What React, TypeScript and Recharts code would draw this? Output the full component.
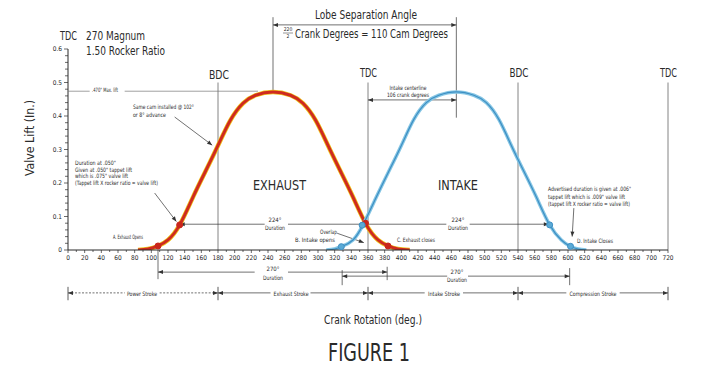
import React from "react";
import { ComposedChart, Line, XAxis, YAxis, ReferenceLine, ReferenceDot } from "recharts";

// crank angle (deg) vs valve lift (in.)
const exhaustDeg = [84, 96, 108, 120, 134, 150, 165, 180, 195, 210, 225, 246, 267, 282, 297, 312, 327, 342, 358, 372, 384, 396, 410];
const exhaustLift = [0, 0.003, 0.012, 0.03, 0.075, 0.158, 0.235, 0.312, 0.388, 0.438, 0.462, 0.472, 0.462, 0.438, 0.388, 0.312, 0.235, 0.158, 0.075, 0.03, 0.012, 0.003, 0];
const intakeDeg = [310, 320, 330, 342, 354, 370, 385, 400, 415, 430, 445, 466, 487, 502, 517, 532, 547, 562, 578, 592, 602, 612, 622];
const intakeLift = [0, 0.003, 0.012, 0.03, 0.075, 0.158, 0.235, 0.312, 0.39, 0.44, 0.462, 0.472, 0.462, 0.44, 0.39, 0.312, 0.235, 0.158, 0.075, 0.03, 0.012, 0.003, 0];

const exhaustMarkDeg = [108, 134, 357, 384];
const exhaustMarkLift = [0.012, 0.075, 0.08, 0.012];
const intakeMarkDeg = [328, 353, 578, 603];
const intakeMarkLift = [0.01, 0.074, 0.075, 0.011];

const strokeLimits = [0, 180, 360, 540, 720];
const xTicks = Array.from({ length: 73 }, (_, i) => i * 10);
const yTicks = Array.from({ length: 31 }, (_, i) => Math.round(i * 2) / 100);

const exhaustData = exhaustDeg.map((deg, i) => ({ deg, lift: exhaustLift[i] }));
const intakeData = intakeDeg.map((deg, i) => ({ deg, lift: intakeLift[i] }));

const FONT = "'Liberation Sans Narrow', 'DejaVu Sans Condensed', 'Liberation Sans', sans-serif";
const INK = "#2a2a2a";

type Arrow = "none" | "start" | "end" | "both";

const arrowShape = (arrow: Arrow, dash?: string) => (p: any) => {
  const { x1, y1, x2, y2 } = p;
  const len = Math.hypot(x2 - x1, y2 - y1) || 1;
  const ux = (x2 - x1) / len;
  const uy = (y2 - y1) / len;
  const head = (x: number, y: number, dx: number, dy: number) => {
    const bx = x - dx * 5;
    const by = y - dy * 5;
    return `${x},${y} ${bx - dy * 2},${by + dx * 2} ${bx + dy * 2},${by - dx * 2}`;
  };
  const col = p.stroke;
  return (
    <g>
      <line x1={x1} y1={y1} x2={x2} y2={y2} stroke={col} strokeWidth={p.strokeWidth} strokeDasharray={dash} />
      {(arrow === "start" || arrow === "both") && <polygon points={head(x1, y1, -ux, -uy)} fill={col} />}
      {(arrow === "end" || arrow === "both") && <polygon points={head(x2, y2, ux, uy)} fill={col} />}
    </g>
  );
};

// annotation segments in chart units: [x1, y1, x2, y2, arrow]
const notes: [number, number, number, number, Arrow][] = [
  [0, 0.474, 26, 0.474, "none"],
  [68, 0.474, 228, 0.474, "none"],
  [246, 0.474, 246, 0.695, "none"],
  [466, 0.395, 466, 0.695, "none"],
  [246, 0.672, 466, 0.672, "both"],
  [360, 0.448, 466, 0.448, "both"],
  [128, 0.397, 173, 0.313, "end"],
  [104, 0.17, 130, 0.085, "end"],
  [134, 0.077, 236, 0.077, "start"],
  [264, 0.077, 454, 0.077, "none"],
  [482, 0.077, 577, 0.077, "end"],
  [323, 0.05, 355, 0.022, "end"],
  [607, 0.125, 605, 0.04, "end"],
  [108, 0.0, 108, -0.087, "none"],
  [108, -0.066, 224, -0.066, "start"],
  [264, -0.066, 383, -0.066, "end"],
  [383, -0.05, 383, -0.09, "none"],
  [329, -0.06, 329, -0.105, "none"],
  [329, -0.078, 455, -0.078, "start"],
  [480, -0.078, 602, -0.078, "end"],
  [602, -0.054, 602, -0.105, "none"],
];

const strokeSegs: [number, number, Arrow][] = [
  [0, 68, "start"], [110, 180, "end"],
  [180, 243, "start"], [291, 360, "end"],
  [360, 428, "start"], [474, 540, "end"],
  [540, 598, "start"], [662, 720, "end"],
];

const XTick = (p: any) => {
  const v = p.payload.value;
  const major = v % 20 === 0;
  return (
    <g>
      <line x1={p.x} y1={p.y} x2={p.x} y2={p.y + (major ? 3 : 2)} stroke={INK} strokeWidth={0.7} />
      {major && (
        <text x={p.x} y={p.y + 10} textAnchor="middle" fontSize={6.5} fill={INK} fontFamily={FONT}>
          {v}
        </text>
      )}
    </g>
  );
};

const YTick = (p: any) => {
  const v = p.payload.value;
  const major = Math.abs(v * 10 - Math.round(v * 10)) < 1e-6;
  return (
    <g>
      <line x1={p.x - (major ? 4 : 3)} y1={p.y} x2={p.x} y2={p.y} stroke={INK} strokeWidth={0.7} />
      {major && (
        <text x={p.x - 6} y={p.y + 2.2} textAnchor="end" fontSize={6.5} fill={INK} fontFamily={FONT}>
          {v === 0 ? "0" : v.toFixed(1)}
        </text>
      )}
    </g>
  );
};

type T = { t: string; x: number; y: number; s: number; w?: number; a?: "start" | "middle" | "end" };
const texts: T[] = [
  { t: "TDC", x: 60, y: 40, s: 12, w: 17 },
  { t: "270 Magnum", x: 86, y: 40, s: 12, w: 59 },
  { t: "1.50 Rocker Ratio", x: 86, y: 55, s: 12, w: 79 },
  { t: "BDC", x: 219, y: 79, s: 12, w: 20, a: "middle" },
  { t: "TDC", x: 368.5, y: 77, s: 12, w: 17, a: "middle" },
  { t: "BDC", x: 519, y: 77, s: 12, w: 19, a: "middle" },
  { t: "TDC", x: 668.5, y: 77, s: 12, w: 17, a: "middle" },
  { t: "Lobe Separation Angle", x: 366, y: 19, s: 12, w: 102, a: "middle" },
  { t: "Crank Degrees = 110 Cam Degrees", x: 295, y: 38, s: 12, w: 153 },
  { t: "220", x: 288, y: 31, s: 5, a: "middle" },
  { t: "2", x: 288, y: 38, s: 5, a: "middle" },
  { t: ".470\" Max. lift", x: 92, y: 92, s: 6, w: 26 },
  { t: "Same cam installed @ 102\u00b0", x: 133, y: 109, s: 6, w: 61 },
  { t: "or 8\u00b0 advance", x: 133, y: 117, s: 6, w: 33 },
  { t: "Duration at .050\"", x: 75, y: 165, s: 6, w: 41 },
  { t: "Given at .050\" tappet lift", x: 75, y: 171.5, s: 6, w: 57 },
  { t: "which is .075\" valve lift", x: 75, y: 178, s: 6, w: 53 },
  { t: "(Tappet lift X rocker ratio = valve lift)", x: 75, y: 185, s: 6, w: 83 },
  { t: "A. Exhaust Opens", x: 113, y: 239, s: 6, w: 30 },
  { t: "EXHAUST", x: 253, y: 190, s: 14, w: 53 },
  { t: "INTAKE", x: 438, y: 190, s: 14, w: 40 },
  { t: "224\u00b0", x: 275, y: 222, s: 6, a: "middle" },
  { t: "Duration", x: 275, y: 230, s: 6, w: 20, a: "middle" },
  { t: "224\u00b0", x: 458, y: 222, s: 6, a: "middle" },
  { t: "Duration", x: 458, y: 230, s: 6, w: 20, a: "middle" },
  { t: "Overlap", x: 320, y: 234, s: 6, w: 17 },
  { t: "B. Intake opens", x: 295, y: 242, s: 6, w: 40 },
  { t: "C. Exhaust closes", x: 397, y: 242, s: 6, w: 38 },
  { t: "Intake centerline", x: 408, y: 90, s: 6, w: 37, a: "middle" },
  { t: "106 crank degrees", x: 408, y: 97, s: 6, w: 42, a: "middle" },
  { t: "Advertised duration is given at .006\"", x: 548, y: 191, s: 6, w: 83 },
  { t: "tappet lift which is .009\" valve lift", x: 548, y: 198.5, s: 6, w: 77 },
  { t: "(tappet lift X rocker ratio = valve lift)", x: 548, y: 206, s: 6, w: 82 },
  { t: "D. Intake Closes", x: 577, y: 243, s: 6, w: 36 },
  { t: "270\u00b0", x: 273, y: 271, s: 6, a: "middle" },
  { t: "Duration", x: 273, y: 280, s: 6, w: 20, a: "middle" },
  { t: "270\u00b0", x: 457, y: 274, s: 6, a: "middle" },
  { t: "Duration", x: 457, y: 282, s: 6, w: 20, a: "middle" },
  { t: "Power Stroke", x: 142, y: 295.5, s: 6, w: 30, a: "middle" },
  { t: "Exhaust Stroke", x: 291, y: 295.5, s: 6, w: 35, a: "middle" },
  { t: "Intake Stroke", x: 444, y: 295.5, s: 6, w: 32, a: "middle" },
  { t: "Compression Stroke", x: 593, y: 295.5, s: 6, w: 47, a: "middle" },
  { t: "Crank Rotation (deg.)", x: 373, y: 324, s: 12, w: 98, a: "middle" },
  { t: "FIGURE 1", x: 369, y: 361, s: 25, w: 82, a: "middle" },
];

export default function App() {
  return (
    <div style={{ position: "absolute", left: 0, top: 0, width: 710, height: 368, background: "#fff" }}>
      <ComposedChart width={710} height={368} margin={{ top: 15.5, right: 42, bottom: 98, left: 0 }}>
        <XAxis
          type="number"
          dataKey="deg"
          domain={[0, 720]}
          ticks={xTicks}
          interval={0}
          height={20}
          tickSize={0}
          tickMargin={0}
          tick={<XTick />}
          axisLine={{ stroke: INK, strokeWidth: 1 }}
          tickLine={false}
        />
        <YAxis
          type="number"
          domain={[0, 0.7]}
          allowDataOverflow
          ticks={yTicks}
          interval={0}
          width={68}
          tickSize={0}
          tickMargin={0}
          tick={<YTick />}
          axisLine={false}
          tickLine={false}
        />
        <ReferenceLine segment={[{ x: 0, y: 0 }, { x: 0, y: 0.6 }]} stroke={INK} strokeWidth={1} ifOverflow="visible" />
        {strokeLimits.slice(1).map((d) => (
          <ReferenceLine key={d} segment={[{ x: d, y: 0 }, { x: d, y: 0.5 }]} stroke="#666" strokeWidth={0.8} ifOverflow="visible" />
        ))}
        {notes.map(([x1, y1, x2, y2, a], i) => (
          <ReferenceLine
            key={"n" + i}
            segment={[{ x: x1, y: y1 }, { x: x2, y: y2 }]}
            stroke={i < 2 ? "#777" : "#333"}
            strokeWidth={0.7}
            ifOverflow="visible"
            shape={arrowShape(a)}
          />
        ))}
        {strokeSegs.map(([a, b, ar], i) => (
          <ReferenceLine
            key={"s" + i}
            segment={[{ x: a, y: -0.128 }, { x: b, y: -0.128 }]}
            stroke="#333"
            strokeWidth={0.7}
            ifOverflow="visible"
            shape={arrowShape(ar, i < 2 ? "2 1.5" : undefined)}
          />
        ))}
        {strokeLimits.map((d) => (
          <ReferenceLine key={"t" + d} segment={[{ x: d, y: -0.11 }, { x: d, y: -0.15 }]} stroke="#333" strokeWidth={0.8} ifOverflow="visible" />
        ))}
        <Line data={exhaustData} dataKey="lift" type="natural" stroke="#efc41c" strokeWidth={4.5} dot={false} activeDot={false} isAnimationActive={false} />
        <Line data={exhaustData} dataKey="lift" type="natural" stroke="#cf2b1f" strokeWidth={3} dot={false} activeDot={false} isAnimationActive={false} />
        <Line data={intakeData} dataKey="lift" type="natural" stroke="#86c6e4" strokeWidth={3.5} dot={false} activeDot={false} isAnimationActive={false} />
        <Line data={intakeData} dataKey="lift" type="natural" stroke="#3d8fc4" strokeWidth={1.2} dot={false} activeDot={false} isAnimationActive={false} />
        {exhaustMarkDeg.map((d, i) => (
          <ReferenceDot key={"e" + i} x={d} y={exhaustMarkLift[i]} r={3} fill="#c9261c" stroke="#c9261c" ifOverflow="visible" />
        ))}
        {intakeMarkDeg.map((d, i) => (
          <ReferenceDot key={"i" + i} x={d} y={intakeMarkLift[i]} r={3} fill="#5aaad6" stroke="#3d8fc4" ifOverflow="visible" />
        ))}
      </ComposedChart>
      <svg width={710} height={368} style={{ position: "absolute", left: 0, top: 0, pointerEvents: "none" }}>
        <line x1={283} y1={33} x2={293} y2={33} stroke={INK} strokeWidth={0.5} />
        <text
          transform="translate(34,138) rotate(-90)"
          textAnchor="middle"
          fontSize={13}
          fontFamily={FONT}
          fill={INK}
          textLength={76}
          lengthAdjust="spacingAndGlyphs"
        >
          Valve Lift (In.)
        </text>
        {texts.map((t, i) => (
          <text
            key={i}
            x={t.x}
            y={t.y}
            fontSize={t.s}
            fontFamily={FONT}
            fill={INK}
            textAnchor={t.a ?? "start"}
            textLength={t.w}
            lengthAdjust={t.w ? "spacingAndGlyphs" : undefined}
          >
            {t.t}
          </text>
        ))}
      </svg>
    </div>
  );
}
